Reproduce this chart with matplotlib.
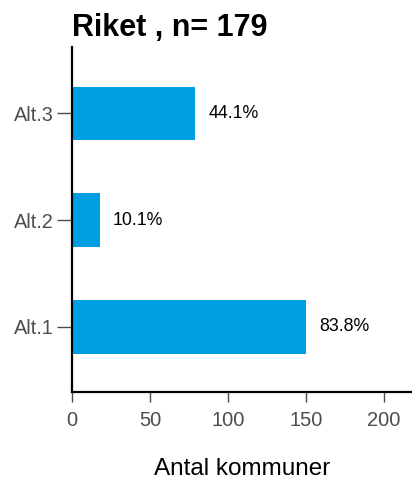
import matplotlib
matplotlib.use("Agg")
import matplotlib.pyplot as plt

categories = ["Alt.1", "Alt.2", "Alt.3"]
counts = [150, 18, 79]
percent_labels = ["83.8%", "10.1%", "44.1%"]
title = "Riket , n= 179"
xlabel = "Antal kommuner"
xticks = [0, 50, 100, 150, 200]

plt.rcParams['font.family'] = ['Liberation Sans', 'DejaVu Sans']

fig = plt.figure(figsize=(4.12, 4.82), dpi=100)
ax = fig.add_axes([0.1748, 0.1867, 0.8252, 0.7158])

ypos = list(range(len(categories)))
ax.barh(ypos, counts, height=0.5, color="#009FE3")
for y, v, lab in zip(ypos, counts, percent_labels):
    ax.text(v + 24.5, y, lab, ha="center", va="center", fontsize=12.8, color="black")

ax.set_xlim(0, 218)
ax.set_ylim(-0.61, 2.62)
ax.set_yticks(ypos)
ax.set_yticklabels(categories)
ax.set_xticks(xticks)

for s in ["top", "right"]:
    ax.spines[s].set_visible(False)
for s in ["left", "bottom"]:
    ax.spines[s].set_linewidth(1.6)
    ax.spines[s].set_color("black")

ax.tick_params(axis="y", length=11, width=1, color="#4D4D4D", labelcolor="#4D4D4D", labelsize=14.3, pad=2)
ax.tick_params(axis="x", length=7.5, width=1, color="#4D4D4D", labelcolor="#4D4D4D", labelsize=14.5, pad=6)

ax.set_xlabel(xlabel, fontsize=17.5, labelpad=20, color="black")
ax.set_title(title, loc="left", fontsize=22, fontweight="bold", pad=8)

fig.savefig("out.png", dpi=100)
